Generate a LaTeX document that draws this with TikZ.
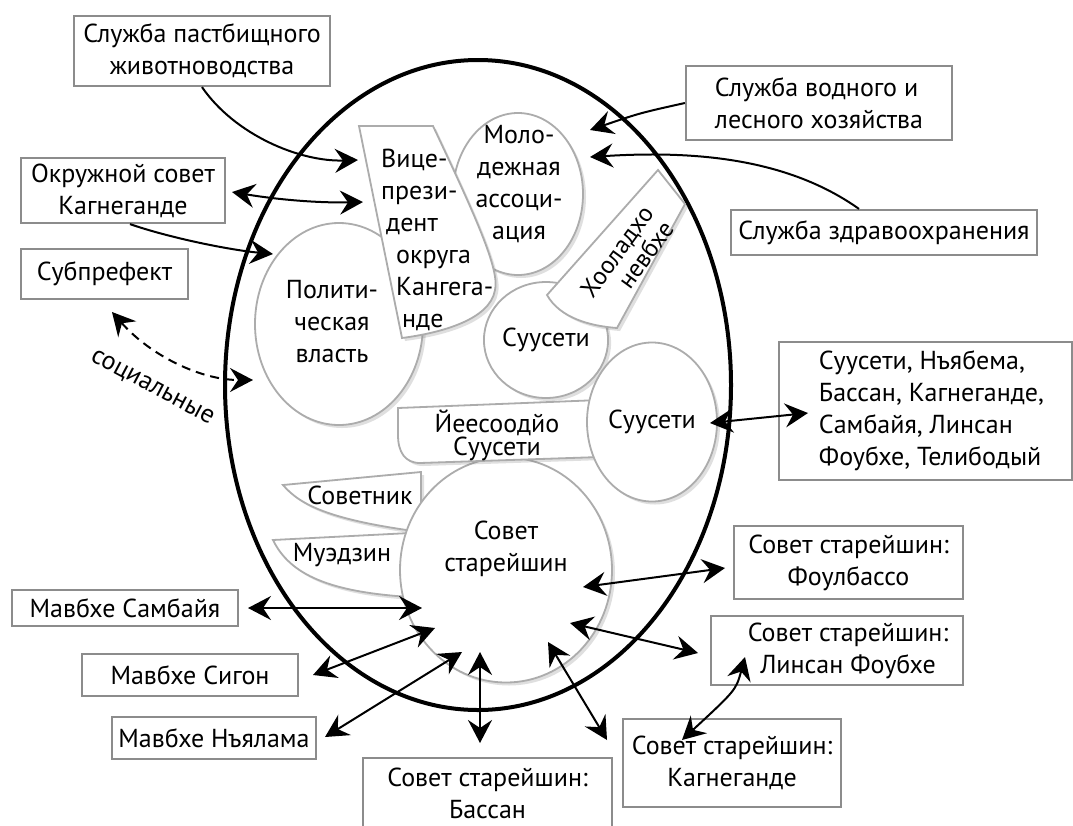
\documentclass[tikz,border=0pt]{standalone}
\usepackage{fontspec}
\setmainfont{PT Sans}
\usetikzlibrary{shapes.geometric,arrows.meta,shadows}

\begin{document}
\begin{tikzpicture}[x=1pt, y=-1pt,
    every node/.style={font=\fontsize{26}{32}\selectfont, align=center},
    box/.style={draw=gray!90, line width=2.2pt, fill=white, inner sep=0pt},
    bubble/.style={ellipse, draw=gray!65, line width=1.8pt, fill=white, inner sep=0pt,
        drop shadow={shadow xshift=3pt, shadow yshift=-3pt, opacity=0.25}},
    blob/.style={draw=gray!65, line width=1.8pt, fill=white,
        drop shadow={shadow xshift=3pt, shadow yshift=-3pt, opacity=0.25}},
    conn/.style={line width=2pt},
    fwd/.style={conn, -{Stealth[length=23pt, width=24pt, inset=8pt]}},
    both/.style={conn, {Stealth[length=23pt, width=24pt, inset=8pt]}-{Stealth[length=23pt, width=24pt, inset=8pt]}}]
  \useasboundingbox (0,0) rectangle (1073,825);
  \clip (0,0) rectangle (1073,825);
  \fill[white] (0,0) rectangle (1073,825);

  % main ellipse
  \draw[line width=4pt] (478,385) ellipse [x radius=253, y radius=325];

  % inner shapes
  \node[bubble, minimum width=168, minimum height=202] (polit) at (339,324) {};
  \node (polittxt) at (332,322) {Полити-\\ческая\\власть};
  \node[bubble, minimum width=130, minimum height=162] (youth) at (518,194) {};
  \node (youthtxt) at (519,184) {Моло-\\дежная\\ассоци-\\ация};
  \draw[blob] (359,126) -- (433,126) .. controls (475,215) and (500,270) .. (495,290)
      .. controls (490,320) and (440,333) .. (402,338) -- cycle;
  \node[anchor=west, inner sep=0pt, align=left] (vice) at (381,240)
      {Вице-\\прези-\\\hspace*{5pt}дент\\\hspace*{15pt}округа\\\hspace*{15pt}Кангега-\\\hspace*{21pt}нде};
  \node[bubble, minimum width=118, minimum height=116] (suusA) at (546,340) {Суусети};
  \draw[blob] (658,170) -- (685,204) -- (617,328) .. controls (590,326) and (560,318) .. (547,295) -- cycle;
  \node[rotate=54, align=right, font=\fontsize{25}{25}\selectfont] (hool) at (627,259) {Хооладхо\\невбхе};
  \draw[blob] (283,485) -- (421,472) -- (421,532) .. controls (330,520) and (300,505) .. (283,485) -- cycle;
  \node (sovetnik) at (360,495) {Советник};
  \draw[blob] (273,540) -- (410,533) -- (410,597) .. controls (330,592) and (290,575) .. (273,540) -- cycle;
  \node (muezzin) at (342,555) {Муэдзин};
  \node[bubble, minimum width=212, minimum height=225] (elders) at (506,570) {};
  \node (elderstxt) at (506,549) {Совет\\старейшин};
  \draw[blob] (398,408) -- (600,400) -- (600,457) -- (420,463) .. controls (405,463) and (398,452) .. (398,435) -- cycle;
  \node[font=\fontsize{26}{21}\selectfont] (yees) at (497,435) {Йеесоодйо\\Суусети};
  \node[bubble, minimum width=130, minimum height=159] (suusB) at (652,422) {Суусети};

  \node[rotate=-28] (social) at (152,388) {социальные};

  % outer boxes
  \node[box, minimum width=256, minimum height=70] (pasture) at (202,51) {Служба пастбищного\\животноводства};
  \node[box, minimum width=204, minimum height=65] (okrsovet) at (123,190.5) {Окружной совет\\Кагнеганде};
  \node[box, minimum width=167, minimum height=50] (subpref) at (104.5,274) {Субпрефект};
  \node[box, align=left, minimum width=266, minimum height=74] (water) at (819,103) {Служба водного и\\лесного хозяйства};
  \node[box, minimum width=306, minimum height=45] (health) at (884,232.5) {Служба здравоохранения};
  \node[box, align=left, minimum width=293, minimum height=138] (susetilist) at (925.5,411)
      {\hspace*{12pt}Суусети, Нъябема,\\\hspace*{12pt}Бассан, Кагнеганде,\\\hspace*{12pt}Самбайя, Линсан\\\hspace*{12pt}Фоубхе, Телибодый};
  \node[box, minimum width=229, minimum height=73] (foulbasso) at (848.5,562.5) {Совет старейшин:\\Фоулбассо};
  \node[box, minimum width=252, minimum height=69] (linsan) at (837,650.5)
      {\hspace*{22pt}Совет старейшин:\\\hspace*{22pt}Линсан Фоубхе};
  \node[box, minimum width=218, minimum height=88] (kagneg) at (732,763) {Совет старейшин:\\Кагнеганде};
  \node[box, minimum width=249, minimum height=70] (bassan) at (487.5,793) {Совет старейшин:\\Бассан};
  \node[box, minimum width=226, minimum height=36] (sambaya) at (125,608) {Мавбхе Самбайя};
  \node[box, minimum width=216, minimum height=42] (sigon) at (190,675) {Мавбхе Сигон};
  \node[box, minimum width=204, minimum height=42] (nyalama) at (214,738) {Мавбхе Нъялама};

  % arrow ends
  \coordinate (vA) at (358,160);
  \coordinate (vB) at (363,202);
  \coordinate (okA) at (232,192);
  \coordinate (pA) at (273,254);
  \coordinate (pB) at (253,380);
  \coordinate (sA) at (112,312);
  \coordinate (yA) at (590,130);
  \coordinate (yB) at (590,157);
  \coordinate (sbA) at (710,423);
  \coordinate (sbB) at (808,413);
  \coordinate (eA) at (583,587);
  \coordinate (fA) at (725,568);
  \coordinate (eB) at (570,623);
  \coordinate (lA) at (698,653);
  \coordinate (eC) at (548,642);
  \coordinate (kA) at (607,740);
  \coordinate (lB) at (745,657);
  \coordinate (kB) at (682,740);
  \coordinate (eD) at (422,608);
  \coordinate (smA) at (248,608);
  \coordinate (eE) at (435,628);
  \coordinate (sgA) at (313,675);
  \coordinate (eF) at (462,652);
  \coordinate (nyA) at (325,737);
  \coordinate (eG) at (480,652);
  \coordinate (bsA) at (480,743);

  % connectors
  \draw[fwd] (pasture.south) .. controls (235,135) and (300,162) .. (vA);
  \draw[both] (okA) .. controls (280,200) and (320,203) .. (vB);
  \draw[fwd] ([xshift=7pt]okrsovet.south) .. controls (170,238) and (230,250) .. (pA);
  \draw[both, dash pattern=on 9pt off 6pt] (sA) .. controls (150,355) and (200,380) .. (pB);
  \draw[fwd] (water.west) .. controls (640,113) .. (yA);
  \draw[fwd] ([xshift=-25pt]health.north) .. controls (790,160) and (700,150) .. (yB);
  \draw[both] (sbA) -- (sbB);
  \draw[both] (eA) -- (fA);
  \draw[both] (eB) -- (lA);
  \draw[both] (eC) -- (kA);
  \draw[both] (lB) .. controls (736,690) .. (kB);
  \draw[both] (smA) -- (eD);
  \draw[both] (sgA) -- (eE);
  \draw[both] (nyA) -- (eF);
  \draw[both] (bsA) -- (eG);
\end{tikzpicture}
\end{document}
